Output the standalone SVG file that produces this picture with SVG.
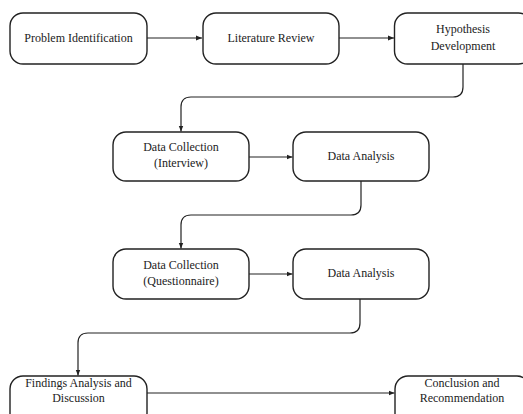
<svg xmlns="http://www.w3.org/2000/svg" width="523" height="414" viewBox="0 0 523 414">
<style>
.box{fill:#fff;stroke:#222;stroke-width:1.4}
.t{font-family:"Liberation Serif","Times New Roman",serif;font-size:12px;fill:#222;text-anchor:middle;dominant-baseline:central}
.c{fill:none;stroke:#222;stroke-width:1.2}
</style>
<defs>
<marker id="a" viewBox="0 0 10 10" refX="10" refY="5" markerWidth="6" markerHeight="6" orient="auto" markerUnits="userSpaceOnUse">
<path d="M0,1 L10,5 L0,9 z" fill="#222"/>
</marker>
</defs>
<rect width="523" height="414" fill="#fff"/>
<g id="connectors">
<path class="c" d="M147,38 H202" marker-end="url(#a)"/>
<path class="c" d="M339,38 H394" marker-end="url(#a)"/>
<path class="c" d="M463,64 V87 Q463,97 453,97 H191 Q181,97 181,107 V131.5" marker-end="url(#a)"/>
<path class="c" d="M249,157 H292.5" marker-end="url(#a)"/>
<path class="c" d="M361,181 V205 Q361,215 351,215 H191 Q181,215 181,225 V248.5" marker-end="url(#a)"/>
<path class="c" d="M249,274 H292.5" marker-end="url(#a)"/>
<path class="c" d="M360,299 V323 Q360,333 350,333 H88 Q78,333 78,343 V375.5" marker-end="url(#a)"/>
<path class="c" d="M147,393 H394.5" marker-end="url(#a)"/>
</g>
<g id="n1"><rect class="box" x="10" y="13" width="137" height="51" rx="13"/><text class="t" x="78.5" y="38">Problem Identification</text></g>
<g id="n2"><rect class="box" x="203" y="13" width="136" height="51" rx="13"/><text class="t" x="271" y="38">Literature Review</text></g>
<g id="n3"><rect class="box" x="394.5" y="13" width="137" height="51" rx="13"/><text class="t" x="463" y="29">Hypothesis</text><text class="t" x="463" y="46">Development</text></g>
<g id="n4"><rect class="box" x="113" y="132" width="136" height="49" rx="13"/><text class="t" x="181" y="147">Data Collection</text><text class="t" x="181" y="163">(Interview)</text></g>
<g id="n5"><rect class="box" x="293" y="132" width="136" height="49" rx="13"/><text class="t" x="361" y="156">Data Analysis</text></g>
<g id="n6"><rect class="box" x="113" y="249" width="136" height="50" rx="13"/><text class="t" x="181" y="265">Data Collection</text><text class="t" x="181" y="281">(Questionnaire)</text></g>
<g id="n7"><rect class="box" x="293" y="249" width="136" height="50" rx="13"/><text class="t" x="361" y="273">Data Analysis</text></g>
<g id="n8"><rect class="box" x="10" y="376" width="137" height="50" rx="13"/><text class="t" x="78.5" y="383">Findings Analysis and</text><text class="t" x="78.5" y="398">Discussion</text></g>
<g id="n9"><rect class="box" x="395" y="376" width="135" height="50" rx="13"/><text class="t" x="462" y="383">Conclusion and</text><text class="t" x="462" y="398">Recommendation</text></g>
</svg>
